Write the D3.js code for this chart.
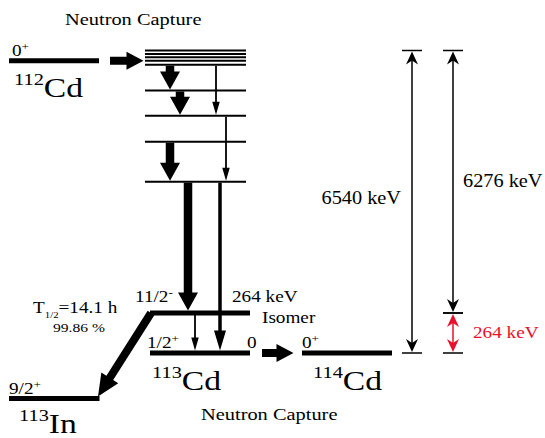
<!DOCTYPE html>
<html>
<head>
<meta charset="utf-8">
<script src="https://cdn.jsdelivr.net/npm/d3@7"></script>
<style>
  body { margin: 0; background: #fff; }
  text { font-family: "Liberation Serif", "Times New Roman", serif; fill: #000; }
</style>
</head>
<body>
<svg id="chart" width="545" height="438"></svg>
<script>
// energies in keV, levels above the isomer are drawn schematically
const captureStates = [6540, 6456, 6377, 6296, 6200]
const cascadeLevels = [5581, 4982, 4360, 3401]

const levelIds = ['cd112', 'iso', 'cd113', 'cd114', 'in113']
const levelEnergies = [6296, 264, 0, 0, -324]
const levelSpins = [['0', '+'], ['11/2', '-'], ['1/2', '+'], ['0', '+'], ['9/2', '+']]
const nucleusMass = ['112', null, '113', '114', '113']
const nucleusName = ['Cd', null, 'Cd', 'Cd', 'In']

// gamma cascade in 113Cd
const gammaFrom = [6200, 6200, 5581, 4982, 4360, 3401, 3401, 264]
const gammaTo = [5581, 4982, 4982, 3401, 3401, 264, 0, 0]
const gammaStrength = ['strong', 'weak', 'strong', 'weak', 'strong', 'strong', 'medium', 'weak']

// energy gaps on the right
const gapFrom = [0, 264, 0]
const gapTo = [6540, 6540, 264]
const gapLabels = ['6540 keV', '6276 keV', '264 keV']

const W = 545, H = 438
const svg = d3.select('#chart')

// diagram units (5 px each) across, piecewise energy scale down
const x = d3.scaleLinear().domain([0, 109]).range([0, W])
const y = d3.scaleLinear().domain([-324, 0, 264, 6540]).range([398.5, 353, 313, 50.5])

// layout
const levelCols = { cd112: [1.8, 19.8], iso: [30, 50], cd113: [30, 50], cd114: [60.4, 78.4], in113: [1.8, 19.9] }
const cascadeCol = [29, 49.2]
const gammaCols = [34, 43.2, 36, 45.2, 34, 37.6, 44, 39]
const gapCols = [82.4, 90.6, 90.6]
const arrowStyle = {
  strong: { w: 8.5, hw: 20, hl: 18 },
  medium: { w: 3.5, hw: 12, hl: 20 },
  weak: { w: 1.8, hw: 7.5, hl: 13 }
}
const sx = 1.2 // the original lettering is a bit wide

const arrow = (x0, y0, x1, y1, s) => {
  const dx = x1 - x0, dy = y1 - y0, L = Math.hypot(dx, dy)
  const ux = dx / L, uy = dy / L, nx = -uy, ny = ux
  const pts = [[0, -s.w / 2], [L - s.hl, -s.w / 2], [L - s.hl, -s.hw / 2], [L, 0],
    [L - s.hl, s.hw / 2], [L - s.hl, s.w / 2], [0, s.w / 2]]
  return d3.line()(pts.map(([a, b]) => [x0 + ux * a + nx * b, y0 + uy * a + ny * b])) + 'Z'
}

// notched head pointing to (xt, yt), dir = +1 down, -1 up
const stealth = (xt, yt, dir) => {
  const hw = 6, hl = 13, notch = 4
  return `M${xt},${yt}L${xt - hw},${yt - dir * hl}L${xt},${yt - dir * (hl - notch)}L${xt + hw},${yt - dir * hl}Z`
}

const label = (px, py, parts, fill = '#000', k = sx) => {
  const t = svg.append('text')
    .attr('transform', `translate(${px},${py}) scale(${k},1)`)
    .style('fill', fill)
  parts.forEach(p => {
    t.append('tspan').text(p.t).attr('font-size', p.size).attr('dy', p.dy || 0)
  })
  return t
}

// capture states and cascade levels
svg.selectAll('.cap').data(captureStates).join('line')
  .attr('x1', x(cascadeCol[0])).attr('x2', x(cascadeCol[1]))
  .attr('y1', d => y(d)).attr('y2', d => y(d))
  .attr('stroke', '#000').attr('stroke-width', 2)
svg.selectAll('.casc').data(cascadeLevels).join('line')
  .attr('x1', x(cascadeCol[0])).attr('x2', x(cascadeCol[1]))
  .attr('y1', d => y(d)).attr('y2', d => y(d))
  .attr('stroke', '#000').attr('stroke-width', 2)

// main levels
svg.selectAll('.lvl').data(levelIds).join('line')
  .attr('x1', d => x(levelCols[d][0])).attr('x2', d => x(levelCols[d][1]))
  .attr('y1', (d, i) => y(levelEnergies[i])).attr('y2', (d, i) => y(levelEnergies[i]))
  .attr('stroke', '#000').attr('stroke-width', 5)

// gammas
const mainE = new Set([264, 0])
svg.selectAll('.gam').data(gammaFrom).join('path')
  .attr('d', (d, i) => arrow(x(gammaCols[i]), y(d) + 1, x(gammaCols[i]),
    y(gammaTo[i]) - (mainE.has(gammaTo[i]) ? 2.5 : 1), arrowStyle[gammaStrength[i]]))
  .attr('fill', '#000')

// beta decay of the isomer to 113In
const iso = levelIds.indexOf('iso'), ind = levelIds.indexOf('in113')
svg.append('path')
  .attr('d', arrow(x(levelCols.iso[0]) + 1, y(levelEnergies[iso]), x(levelCols.in113[1]) - 1.5,
    y(levelEnergies[ind]) - 2, { w: 8, hw: 20, hl: 22 }))
  .attr('fill', '#000')

// neutron capture arrows
const cd112 = levelIds.indexOf('cd112'), cd113 = levelIds.indexOf('cd113')
const capStyle = { w: 8, hw: 18, hl: 17 }
svg.append('path').attr('fill', '#000')
  .attr('d', arrow(x(22), y(levelEnergies[cd112]), x(28.7), y(levelEnergies[cd112]), capStyle))
svg.append('path').attr('fill', '#000')
  .attr('d', arrow(x(52.4), y(levelEnergies[cd113]), x(58.7), y(levelEnergies[cd113]), capStyle))

// energy gaps
gapFrom.forEach((f, i) => {
  const col = i === 2 ? '#e8102a' : '#000'
  const cx = x(gapCols[i]), y0 = y(f), y1 = y(gapTo[i])
  ;[y0, y1].forEach(v => svg.append('line')
    .attr('x1', cx - 10).attr('x2', cx + 10).attr('y1', v).attr('y2', v)
    .attr('stroke', '#000').attr('stroke-width', 1.5))
  svg.append('line').attr('x1', cx).attr('x2', cx).attr('y1', y1 + 6).attr('y2', y0 - 6)
    .attr('stroke', col).attr('stroke-width', 1.5)
  svg.append('path').attr('d', stealth(cx, y1 + 1, -1)).attr('fill', col)
  svg.append('path').attr('d', stealth(cx, y0 - 1, 1)).attr('fill', col)
})
label(x(64.3), y(2870), [{ t: gapLabels[0], size: 19 }], '#000', 1.07)
label(x(92.6), y(3270), [{ t: gapLabels[1], size: 19 }], '#000', 1.07)
label(x(94.6), y(132) + 5, [{ t: gapLabels[2], size: 16 }], '#e8102a')

// level labels
levelIds.forEach((id, i) => {
  const [x0, x1] = levelCols[id].map(x), ly = y(levelEnergies[i])
  const sp = levelSpins[i]
  const spinDx = { cd112: 3, iso: -15, cd113: -3, cd114: 0, in113: 0 }[id]
  const spinDy = id === 'iso' ? -11 : -5
  label(x0 + spinDx, ly + spinDy, [{ t: sp[0], size: 16 }, { t: sp[1], size: 11, dy: -6 }])
  if (nucleusMass[i]) {
    const nDx = { cd112: 5, cd113: 2, cd114: 11, in113: 10 }[id]
    const nDy = { cd112: 36, cd113: 37, cd114: 37, in113: 34.5 }[id]
    label(x0 + nDx, ly + nDy, [{ t: nucleusMass[i], size: 17, dy: -12 }, { t: nucleusName[i], size: 28, dy: 12 }])
  }
})

const isoX = levelCols.iso.map(x), isoY = y(levelEnergies[iso])
label(isoX[1] - 18, isoY - 11, [{ t: '264 keV', size: 16 }])
label(isoX[1] + 12, isoY + 10, [{ t: 'Isomer', size: 16 }])
label(isoX[1] - 3, y(0) - 5, [{ t: '0', size: 16 }])
label(33, isoY, [{ t: 'T', size: 16 }, { t: '1/2', size: 9, dy: 5 }, { t: '=14.1 h', size: 16, dy: -5 }])
label(53, isoY + 19, [{ t: '99.86 %', size: 13 }])

label(65, y(6540) - 25.5, [{ t: 'Neutron Capture', size: 17 }])
label(201, y(0) + 67, [{ t: 'Neutron Capture', size: 17 }])
</script>
</body>
</html>
